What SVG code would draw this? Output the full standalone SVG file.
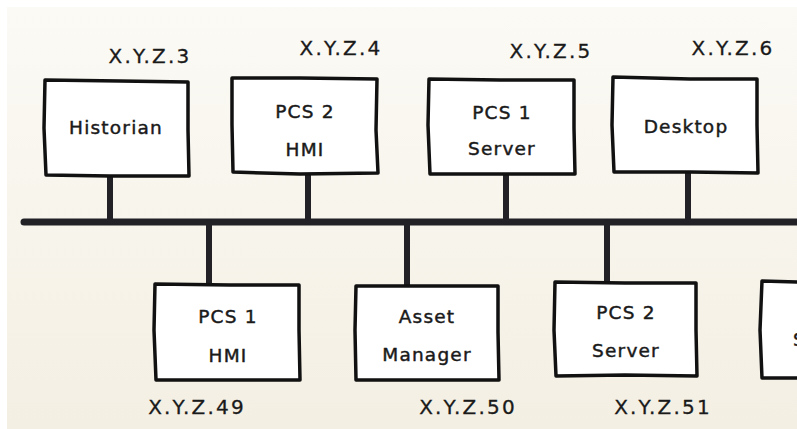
<svg xmlns="http://www.w3.org/2000/svg" width="797" height="429" viewBox="0 0 797 429">
<defs>
<linearGradient id="bg" x1="0" y1="0" x2="0" y2="1">
<stop offset="0" stop-color="#fbfaf5"/>
<stop offset="1" stop-color="#f4efe3"/>
</linearGradient>
</defs>
<style>
.box{fill:#ffffff;stroke:#111111;stroke-width:3.5;stroke-linejoin:round}
.txt{font-family:"DejaVu Sans","Noto Sans",sans-serif;font-size:18.5px;fill:#1a1a1a;stroke:#1a1a1a;stroke-width:0.45;text-anchor:middle;letter-spacing:1.2px}
.ip{font-family:"DejaVu Sans","Noto Sans",sans-serif;font-size:20px;fill:#1a1a1a;stroke:#1a1a1a;stroke-width:0.3;text-anchor:middle;letter-spacing:2.2px}
.wire{stroke:#222226;stroke-linecap:round;fill:none}
</style>
<rect x="0" y="0" width="797" height="429" fill="#ffffff"/>
<rect x="7" y="7" width="790" height="422" fill="url(#bg)"/>
<g id="connectors">
<line class="wire" x1="24" y1="222" x2="800" y2="222" stroke-width="7"/>
<line class="wire" x1="110" y1="176" x2="110" y2="222" stroke-width="6" stroke-linecap="butt"/>
<line class="wire" x1="308" y1="174" x2="308" y2="222" stroke-width="6" stroke-linecap="butt"/>
<line class="wire" x1="506" y1="175" x2="506" y2="222" stroke-width="6" stroke-linecap="butt"/>
<line class="wire" x1="688" y1="173" x2="688" y2="222" stroke-width="6" stroke-linecap="butt"/>
<line class="wire" x1="209" y1="222" x2="209" y2="284" stroke-width="6" stroke-linecap="butt"/>
<line class="wire" x1="407" y1="222" x2="407" y2="286" stroke-width="6" stroke-linecap="butt"/>
<line class="wire" x1="607" y1="222" x2="607" y2="283" stroke-width="6" stroke-linecap="butt"/>
</g>
<g id="historian">
<path class="box" d="M45 80 L120 81 L188 82 L188 130 L189 176 L110 176 L46 175 L44 128 Z"/>
<text class="txt" x="116" y="134">Historian</text>
<text class="ip" x="150" y="63">X.Y.Z.3</text>
</g>
<g id="pcs2hmi">
<path class="box" d="M232 78 L300 78 L377 79 L376 130 L378 173 L300 174 L233 172 L232 125 Z"/>
<text class="txt" x="305" y="118">PCS 2</text>
<text class="txt" x="305" y="156">HMI</text>
<text class="ip" x="341" y="55">X.Y.Z.4</text>
</g>
<g id="pcs1server">
<path class="box" d="M429 79 L500 80 L574 80 L574 128 L575 174 L505 174 L430 174 L428 125 Z"/>
<text class="txt" x="502" y="119">PCS 1</text>
<text class="txt" x="502" y="155">Server</text>
<text class="ip" x="551" y="58">X.Y.Z.5</text>
</g>
<g id="desktop">
<path class="box" d="M613 77 L690 79 L757 79 L757 125 L758 173 L690 172 L614 172 L612 125 Z"/>
<text class="txt" x="686" y="133">Desktop</text>
<text class="ip" x="733" y="55">X.Y.Z.6</text>
</g>
<g id="pcs1hmi">
<path class="box" d="M155 284 L230 285 L299 285 L299 330 L300 380 L230 380 L156 380 L154 330 Z"/>
<text class="txt" x="228" y="323">PCS 1</text>
<text class="txt" x="228" y="362">HMI</text>
<text class="ip" x="197" y="414">X.Y.Z.49</text>
</g>
<g id="assetmanager">
<path class="box" d="M356 286 L430 286 L498 286 L498 332 L499 380 L430 380 L356 380 L355 330 Z"/>
<text class="txt" x="427" y="323">Asset</text>
<text class="txt" x="427" y="361">Manager</text>
<text class="ip" x="468" y="414">X.Y.Z.50</text>
</g>
<g id="pcs2server">
<path class="box" d="M555 282 L625 283 L696 283 L696 330 L697 376 L625 375 L556 376 L554 330 Z"/>
<text class="txt" x="626" y="319">PCS 2</text>
<text class="txt" x="626" y="357">Server</text>
<text class="ip" x="663" y="414">X.Y.Z.51</text>
</g>
<g id="partial">
<path class="box" d="M762 281 L800 282 L800 378 L762 378 L760 330 Z"/>
<text class="txt" x="793" y="346" style="text-anchor:start">S</text>
</g>
</svg>
